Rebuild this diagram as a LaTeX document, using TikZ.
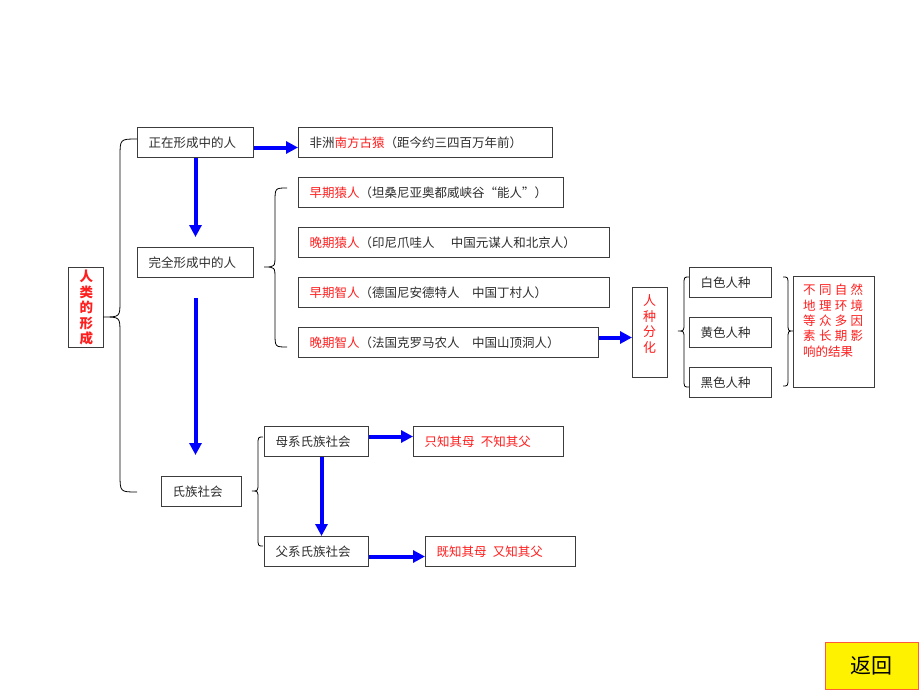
\documentclass[tikz,border=0pt]{standalone}
\usepackage{fontspec}
\setmainfont{Noto Sans CJK SC}
\usetikzlibrary{arrows.meta,calc}
\definecolor{rd}{RGB}{255,30,30}
\definecolor{tx}{RGB}{45,45,45}
\definecolor{bd}{RGB}{60,60,60}
\definecolor{fhb}{RGB}{255,90,60}
\newcommand\bx[7][]{\pgfmathsetmacro\tw{#5-22}\node[box,#1,minimum width=#5pt,minimum height=#6pt,text width=\tw pt] (#2) at (#3,#4) {#7};}
\newcommand\brc[8]{\draw[brcline] (#1,#4) .. controls (#2,#4) .. (#2,#4+#7) -- (#2,#5-#8) .. controls (#2,#5) .. (#3,#5) .. controls (#2,#5) .. (#2,#5+#8) -- (#2,#6-#7) .. controls (#2,#6) .. (#1,#6);}
\begin{document}
\begin{tikzpicture}[x=1pt,y=-1pt,
 box/.style={draw=bd,line width=1pt,rectangle,inner xsep=11pt,inner ysep=2pt,text=tx,font=\fontsize{12.5}{15}\selectfont,align=left,anchor=north west},
 arr/.style={draw=blue,line width=4pt,-{Triangle[length=12pt,width=12pt]}},
 brcline/.style={draw=black,line width=0.8pt}]
\useasboundingbox[fill=white] (0,0) rectangle (920,690);

\bx[align=center,text=rd,font=\fontsize{13.5}{15.5}\selectfont\bfseries]{rl}{68}{267}{35}{80}{人\\类\\的\\形\\成}
\bx{zz}{137}{127}{116}{30}{正在形成中的人}
\bx{fz}{298}{127}{254}{30}{非洲{\color{rd}南方古猿}（距今约三四百万年前）}
\bx{zy}{298}{177}{265}{30}{{\color{rd}早期猿人}（坦桑尼亚奥都威峡谷“能人”）}
\bx{wy}{298}{227}{311}{30}{{\color{rd}晚期猿人}（印尼爪哇人\hspace{1.3em}中国元谋人和北京人）}
\bx{zr}{298}{277}{311}{30}{{\color{rd}早期智人}（德国尼安德特人\quad 中国丁村人）}
\bx{wz}{298}{327}{300}{30}{{\color{rd}晚期智人}（法国克罗马农人\quad 中国山顶洞人）}
\bx{wq}{137}{247}{116}{30}{完全形成中的人}
\bx{sz}{161}{476}{80}{30}{氏族社会}
\bx{mx}{264}{426}{104}{30}{母系氏族社会}
\bx{fx}{264}{536}{104}{30}{父系氏族社会}
\bx[text=rd]{zm}{413}{426}{150}{30}{只知其母\hspace{0.5em}不知其父}
\bx[text=rd]{jm}{425}{536}{150}{30}{既知其母\hspace{0.5em}又知其父}
\bx{rz}{632}{287}{35}{90}{}
\bx{bs}{689}{267}{82}{30}{白色人种}
\bx{hs}{689}{317}{82}{30}{黄色人种}
\bx{hk}{689}{367}{82}{30}{黑色人种}
\bx{bt}{793}{276}{81}{111}{}
\bx[fill=yellow,draw=fhb,line width=0.8pt,align=center,text=black,font=\fontsize{21}{24}\selectfont]{fh}{825}{642}{93}{47}{返回}

\node[text=rd,align=center,inner sep=0pt,font=\fontsize{13}{15.5}\selectfont] (rzt) at (649.5,324) {人\\种\\分\\化};
\node[text=rd,align=left,inner sep=0pt,anchor=north west,font=\fontsize{12.5}{15.3}\selectfont] (btt) at (803,284)
 {\hbox to 60pt{不\hfill 同\hfill 自\hfill 然}\\
  \hbox to 60pt{地\hfill 理\hfill 环\hfill 境}\\
  \hbox to 60pt{等\hfill 众\hfill 多\hfill 因}\\
  \hbox to 60pt{素\hfill 长\hfill 期\hfill 影}\\
  响的结果};

% braces
\brc{137}{120}{103}{139}{317}{492}{18}{16}
\brc{287}{275}{264}{188}{267}{347}{14}{12}
\brc{263}{258}{252}{437}{491}{546}{8}{8}
\brc{689}{684}{678}{277}{331}{387}{8}{8}
\brc{783}{788}{793}{277}{331}{386}{8}{8}

% arrows
\draw[arr] ([yshift=-5pt]zz.east) -- ([yshift=-5pt]fz.west);
\draw[arr] (zz.south) -- ([yshift=10pt]wq.north);
\coordinate (a1) at ($(wq.south)+(0,20)$);
\coordinate (a2) at ($(wq.south |- sz.north)+(0,-21)$);
\draw[arr] (a1) -- (a2);
\draw[arr] ([yshift=5pt]mx.east) -- ([yshift=5pt]zm.west);
\draw[arr] ([xshift=5pt]mx.south) -- ([xshift=5pt]fx.north);
\draw[arr] ([yshift=-5pt]fx.east) -- ([yshift=-5pt]jm.west);
\coordinate (a3) at ($(wz.east)+(0,-5)$);
\draw[arr] (a3) -- (a3 -| rz.west);
\end{tikzpicture}
\end{document}
